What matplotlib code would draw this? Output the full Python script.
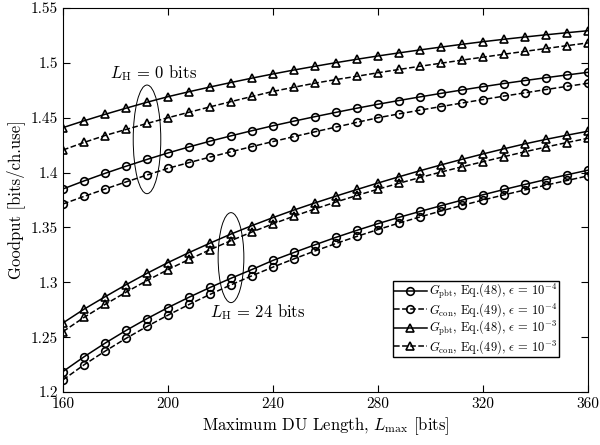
import matplotlib
matplotlib.use("Agg")
import matplotlib.pyplot as plt
from matplotlib.patches import Ellipse
import numpy as np

# ----------------------------------------------------
# Data
# ----------------------------------------------------

L_max = np.arange(160, 361, 8)

# L_H = 0 bits
pbt_e3_h0 = [1.4410, 1.4472, 1.4531, 1.4587, 1.4641, 1.4692, 1.4737, 1.4780, 1.4821,
             1.4861, 1.4899, 1.4935, 1.4969, 1.5002, 1.5033, 1.5063, 1.5091, 1.5118,
             1.5144, 1.5169, 1.5193, 1.5215, 1.5236, 1.5256, 1.5275, 1.5293]
con_e3_h0 = [1.4206, 1.4275, 1.4338, 1.4393, 1.4448, 1.4500, 1.4550, 1.4599, 1.4647,
             1.4694, 1.4740, 1.4778, 1.4815, 1.4848, 1.4878, 1.4910, 1.4940, 1.4969,
             1.4997, 1.5025, 1.5052, 1.5079, 1.5105, 1.5131, 1.5157, 1.5182]
pbt_e4_h0 = [1.3851, 1.3924, 1.3993, 1.4058, 1.4120, 1.4179, 1.4234, 1.4286, 1.4335,
             1.4382, 1.4427, 1.4469, 1.4510, 1.4549, 1.4587, 1.4623, 1.4657, 1.4690,
             1.4722, 1.4753, 1.4783, 1.4812, 1.4839, 1.4865, 1.4890, 1.4914]
con_e4_h0 = [1.3714, 1.3783, 1.3850, 1.3915, 1.3978, 1.4039, 1.4091, 1.4141, 1.4190,
             1.4237, 1.4283, 1.4328, 1.4372, 1.4415, 1.4458, 1.4500, 1.4535, 1.4569,
             1.4602, 1.4634, 1.4666, 1.4697, 1.4727, 1.4757, 1.4786, 1.4814]

# L_H = 24 bits
pbt_e3_h24 = [1.2630, 1.2755, 1.2868, 1.2978, 1.3082, 1.3180, 1.3271, 1.3357, 1.3440,
              1.3517, 1.3590, 1.3659, 1.3724, 1.3786, 1.3846, 1.3905, 1.3962, 1.4017,
              1.4070, 1.4121, 1.4170, 1.4217, 1.4262, 1.4303, 1.4341, 1.4377]
con_e3_h24 = [1.2551, 1.2680, 1.2798, 1.2910, 1.3016, 1.3116, 1.3209, 1.3297, 1.3380,
              1.3459, 1.3533, 1.3603, 1.3669, 1.3732, 1.3792, 1.3849, 1.3903, 1.3955,
              1.4005, 1.4053, 1.4099, 1.4145, 1.4190, 1.4233, 1.4274, 1.4313]
pbt_e4_h24 = [1.2187, 1.2321, 1.2445, 1.2561, 1.2669, 1.2770, 1.2864, 1.2953, 1.3037,
              1.3117, 1.3200, 1.3272, 1.3342, 1.3410, 1.3474, 1.3535, 1.3592, 1.3646,
              1.3698, 1.3749, 1.3798, 1.3846, 1.3892, 1.3937, 1.3980, 1.4022]
con_e4_h24 = [1.2111, 1.2248, 1.2372, 1.2489, 1.2598, 1.2701, 1.2798, 1.2890, 1.2977,
              1.3060, 1.3139, 1.3214, 1.3286, 1.3354, 1.3419, 1.3481, 1.3540, 1.3596,
              1.3650, 1.3701, 1.3750, 1.3797, 1.3842, 1.3886, 1.3928, 1.3970]

x_ticks = [160, 200, 240, 280, 320, 360]
y_ticks = [1.2, 1.25, 1.3, 1.35, 1.4, 1.45, 1.5, 1.55]
y_tick_labels = ["1.2", "1.25", "1.3", "1.35", "1.4", "1.45", "1.5", "1.55"]

labels = [
    r"$G_{\mathrm{pbt}}$, Eq.(48), $\epsilon\,=\,10^{-4}$",
    r"$G_{\mathrm{con}}$, Eq.(49), $\epsilon\,=\,10^{-4}$",
    r"$G_{\mathrm{pbt}}$, Eq.(48), $\epsilon\,=\,10^{-3}$",
    r"$G_{\mathrm{con}}$, Eq.(49), $\epsilon\,=\,10^{-3}$",
]

# ----------------------------------------------------
# Style
# ----------------------------------------------------

plt.rcParams["font.family"] = "cmr10"
plt.rcParams["mathtext.fontset"] = "cm"
plt.rcParams["axes.unicode_minus"] = False

fig = plt.figure(figsize=(6, 4.45), dpi=100)
ax = fig.add_axes([0.105, 0.119, 0.875, 0.863])

line_kw = dict(color="black", linewidth=1.1, markersize=5.5,
               markerfacecolor="none", markeredgewidth=1.2)

h1, = ax.plot(L_max, pbt_e4_h0, "-", marker="o", **line_kw)
h2, = ax.plot(L_max, con_e4_h0, "--", marker="o", **line_kw)
h3, = ax.plot(L_max, pbt_e3_h0, "-", marker="^", **line_kw)
h4, = ax.plot(L_max, con_e3_h0, "--", marker="^", **line_kw)

ax.plot(L_max, pbt_e4_h24, "-", marker="o", **line_kw)
ax.plot(L_max, con_e4_h24, "--", marker="o", **line_kw)
ax.plot(L_max, pbt_e3_h24, "-", marker="^", **line_kw)
ax.plot(L_max, con_e3_h24, "--", marker="^", **line_kw)

# ----------------------------------------------------
# Annotations
# ----------------------------------------------------

ax.add_patch(Ellipse((192, 1.4303), 10.5, 0.099, fill=False,
                     edgecolor="black", linewidth=0.7))
ax.text(194.5, 1.4908, r"$L_{\mathrm{H}}\,=\,0$ bits", ha="center", va="center",
        fontsize=12)

ax.add_patch(Ellipse((224, 1.3225), 9.8, 0.082, fill=False,
                     edgecolor="black", linewidth=0.7))
ax.text(234.3, 1.273, r"$L_{\mathrm{H}}\,=\,24$ bits", ha="center", va="center",
        fontsize=12)

# ----------------------------------------------------
# Axes
# ----------------------------------------------------

ax.set_xlim(160, 360)
ax.set_ylim(1.2, 1.55)
ax.set_xticks(x_ticks)
ax.set_yticks(y_ticks)
ax.set_yticklabels(y_tick_labels)
ax.tick_params(direction="in", top=True, right=True, labelsize=11,
               length=5, width=0.8)
for s in ax.spines.values():
    s.set_linewidth(0.8)

ax.set_xlabel(r"Maximum DU Length, $L_{\max}$ [bits]", fontsize=12, labelpad=3)
ax.set_ylabel("Goodput [bits/ch.use]", fontsize=12, labelpad=4)

ax.legend([h1, h2, h3, h4], labels, loc="lower right",
          bbox_to_anchor=(0.945, 0.09), fontsize=9, frameon=True,
          fancybox=False, edgecolor="black", framealpha=1,
          handlelength=2.6, handletextpad=0.2, borderpad=0.12,
          labelspacing=0.0, borderaxespad=0)

fig.savefig("out.png", dpi=100)
